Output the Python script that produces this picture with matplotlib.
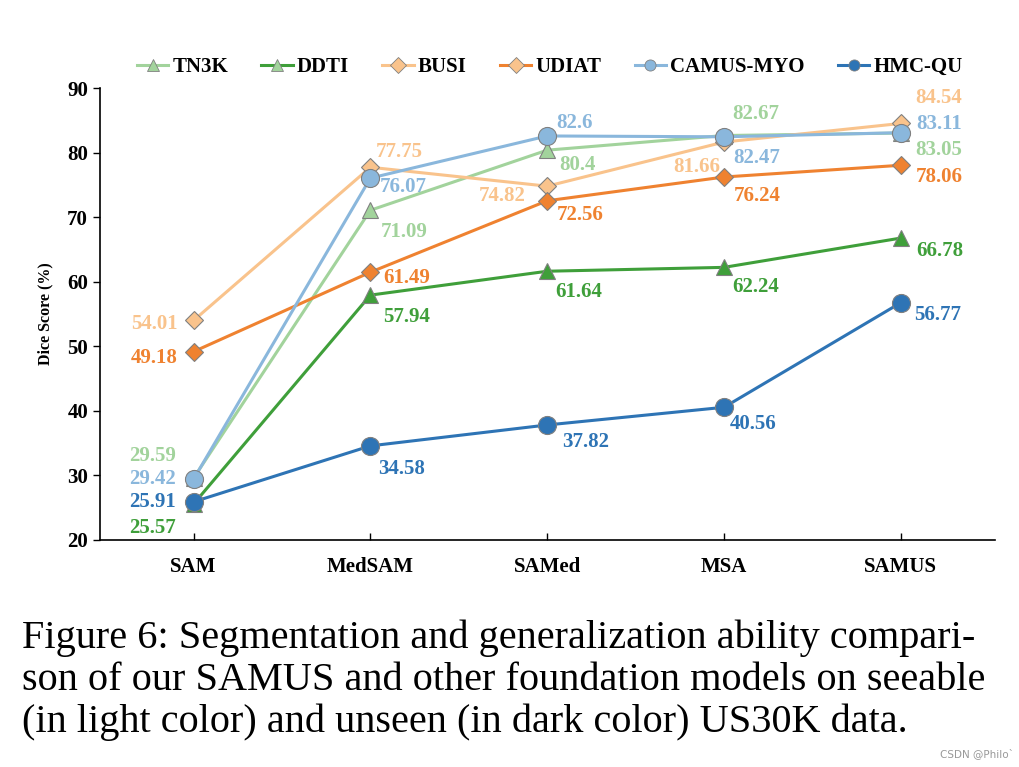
import matplotlib.pyplot as plt
from matplotlib.lines import Line2D
import numpy as np

plt.rcParams['font.family'] = ['Liberation Serif', 'DejaVu Serif']

models = ['SAM', 'MedSAM', 'SAMed', 'MSA', 'SAMUS']
names = ['TN3K', 'DDTI', 'BUSI', 'UDIAT', 'CAMUS-MYO', 'HMC-QU']
tn3k = [29.59, 71.09, 80.4, 82.67, 83.05]
ddti = [25.57, 57.94, 61.64, 62.24, 66.78]
busi = [54.01, 77.75, 74.82, 81.66, 84.54]
udiat = [49.18, 61.49, 72.56, 76.24, 78.06]
camus = [29.42, 76.07, 82.6, 82.47, 83.11]
hmcqu = [25.91, 34.58, 37.82, 40.56, 56.77]
series = [tn3k, ddti, busi, udiat, camus, hmcqu]

colors = ['#a2d39c', '#3f9f3a', '#f9c38c', '#ef8230', '#8ab7dc', '#2e74b5']
markers = ['^', '^', 'D', 'D', 'o', 'o']
msizes = [12, 12, 9.5, 9.5, 13, 13]
# the legend in the original reuses the light marker colour for DDTI and UDIAT
legend_faces = ['#a2d39c', '#a2d39c', '#f9c38c', '#f9c38c', '#8ab7dc', '#2e74b5']

# label offsets in pixels (dx, dy) for each point
offsets = [
    [(-41, 22), (34, -22), (30, -15), (32, 22), (38, -17)],
    [(-41, -24), (36, -22), (31, -21), (32, -20), (39, -13)],
    [(-39, -4), (29, 15), (-45, -10), (-27, -25), (38, 25)],
    [(-39, -6), (36, -6), (33, -14), (33, -19), (38, -12)],
    [(-41, 0), (33, -9), (27, 13), (33, -21), (38, 9)],
    [(-41, 0), (31, -23), (38, -17), (29, -17), (37, -12)],
]

fig = plt.figure(figsize=(10.19, 7.67), dpi=100)
ax = fig.add_axes([0.098, 0.296, 0.878, 0.589])
x = np.arange(len(models))

for vals, name, c, m, ms, offs in zip(series, names, colors, markers, msizes, offsets):
    ax.plot(x, vals, color=c, lw=2.2, marker=m, markersize=ms,
            markerfacecolor=c, markeredgecolor='#808080', markeredgewidth=0.8)
    for xi, v, (dx, dy) in zip(x, vals, offs):
        ax.annotate(f'{v:g}', (xi, v), xytext=(dx, dy), textcoords='offset pixels',
                    ha='center', va='center', color=c, fontsize=15,
                    fontweight='bold')

ax.set_xlim(-0.53, 4.53)
ax.set_ylim(20, 90)
ax.set_yticks(range(20, 91, 10))
ax.set_xticks(x)
ax.set_xticklabels(models, fontweight='bold', fontsize=15)
for t in ax.get_yticklabels():
    t.set_fontweight('bold')
    t.set_fontsize(15)
ax.tick_params(axis='x', direction='in', length=5, pad=12, width=1)
ax.tick_params(axis='y', direction='out', length=5, width=1)
ax.spines['top'].set_visible(False)
ax.spines['right'].set_visible(False)
ax.spines['left'].set_linewidth(1.2)
ax.spines['bottom'].set_linewidth(1.2)
ax.set_ylabel('Dice Score (%)', fontweight='bold', fontsize=11.5, labelpad=10)

handles = [Line2D([], [], color=c, lw=2.2, marker=m, markersize=8,
                  markerfacecolor=f, markeredgecolor='#808080', markeredgewidth=0.6)
           for c, m, f in zip(colors, markers, legend_faces)]
ax.legend(handles, names, loc='center', bbox_to_anchor=(0.503, 1.047), ncol=6,
          frameon=False, prop={'weight': 'bold', 'size': 15}, handlelength=1.5,
          columnspacing=1.6, handletextpad=0.2)

caption = ('Figure 6: Segmentation and generalization ability compari-\n'
           'son of our SAMUS and other foundation models on seeable\n'
           '(in light color) and unseen (in dark color) US30K data.')
fig.text(0.022, 0.113, caption, fontsize=29, va='center', ha='left',
         linespacing=1.17)
fig.text(0.995, 0.018, 'CSDN @Philo`', fontsize=7.5, color='#999999',
         ha='right', va='center', family='DejaVu Sans')

fig.savefig('out.png', dpi=100)
